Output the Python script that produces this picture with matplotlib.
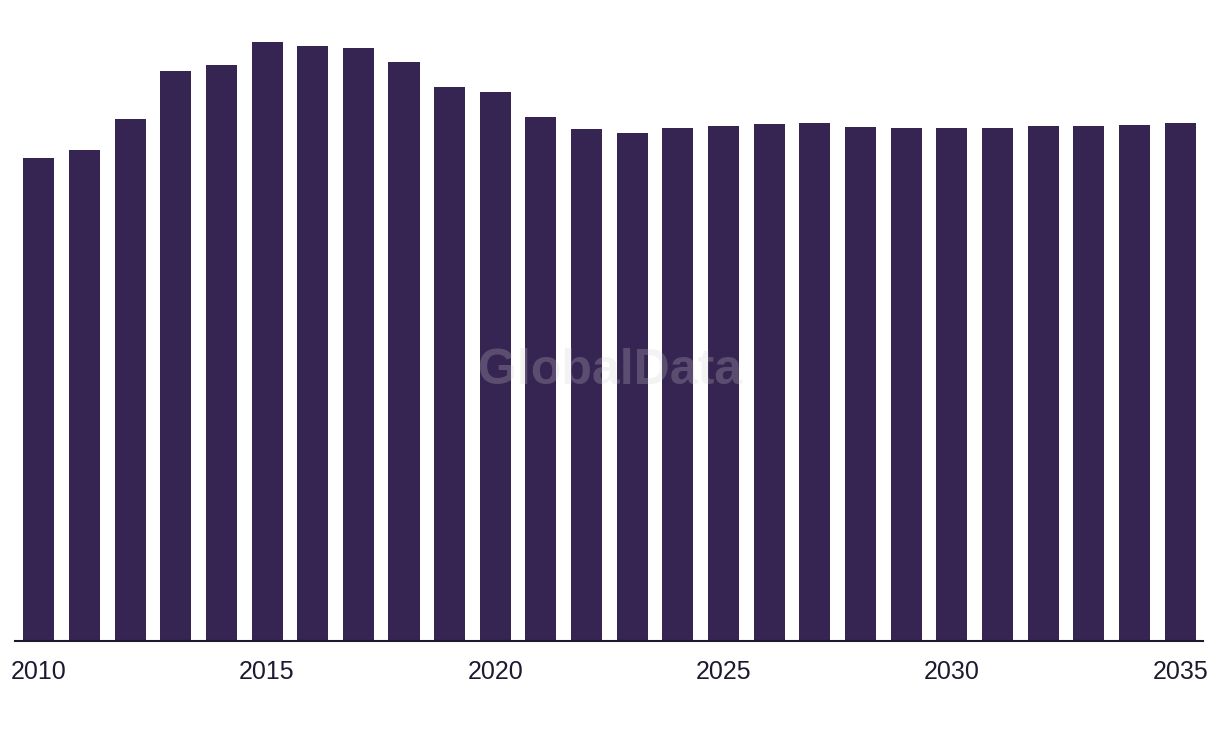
import matplotlib
matplotlib.use("Agg")
import matplotlib.pyplot as plt

# Years shown on the x axis (every bar), labels every fifth year.
YEARS = list(range(2010, 2036))
# Bar heights (arbitrary units, no y axis shown).
VALUES = [483, 491, 522, 570, 576, 599, 595, 593, 579, 554, 549, 524,
          512, 508, 513, 515, 517, 518, 514, 513, 513, 513, 515, 515,
          516, 518]
TICK_YEARS = [2010, 2015, 2020, 2025, 2030, 2035]

BAR_COLOR = "#362452"
TEXT_COLOR = "#1c1a2e"

fig = plt.figure(figsize=(12.2, 7.38), dpi=100)
ax = fig.add_axes([15 / 1220, 97 / 738, 1188 / 1220, 641 / 738])

x = list(range(len(YEARS)))
ax.bar(x, VALUES, width=0.68, color=BAR_COLOR, zorder=2)

ax.set_xlim(-0.52, len(YEARS) - 0.5)
ax.set_ylim(0, 641)

for side in ["top", "right", "left"]:
    ax.spines[side].set_visible(False)
ax.spines["bottom"].set_color(TEXT_COLOR)
ax.spines["bottom"].set_linewidth(1.5)
ax.spines["bottom"].set_zorder(3)

ax.set_yticks([])
ax.set_xticks([YEARS.index(y) for y in TICK_YEARS])
ax.set_xticklabels([str(y) for y in TICK_YEARS], fontsize=18,
                   family="Liberation Sans", color=TEXT_COLOR)
ax.tick_params(axis="x", length=0, pad=14)

# Watermark in the middle of the plot.
fig.text(610 / 1220, 1 - 371 / 738, "GlobalData", ha="center", va="center",
         fontsize=36, fontweight="bold", family="Liberation Sans",
         color="#d0d0d0", alpha=0.24, zorder=5)

fig.savefig("out.png", dpi=100, facecolor="white")
